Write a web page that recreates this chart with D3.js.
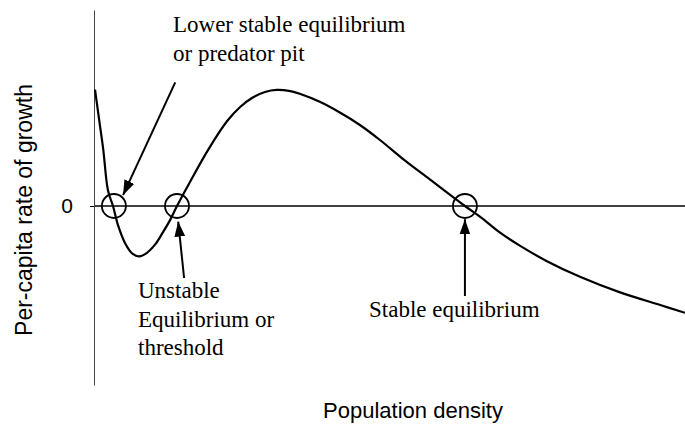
<!DOCTYPE html>
<html>
<head>
<meta charset="utf-8">
<script src="https://cdn.jsdelivr.net/npm/d3@7/dist/d3.min.js"></script>
<style>
  html, body { margin: 0; padding: 0; background: #fff; }
  svg { display: block; }
</style>
</head>
<body>
<svg id="chart" width="685" height="425"></svg>
<script>
// ---- data (population density 0..100, per-capita growth rate, relative units) ----
const curveX = [0, 0.7, 1.4, 2.2, 3.05, 3.9, 5.1, 6.4, 7.5, 8.8, 10.2, 11.5, 12.7, 13.9,
  16.1, 19.2, 22.4, 24.6, 26.6, 28.8, 30.8, 33.1, 34.7, 38.1, 41.5, 44.9, 48.3, 52.5, 56.8, 62.7,
  65.3, 68.6, 72.0, 76.6, 82.2, 89.0, 95.8, 100];
const curveY = [0.97, 0.72, 0.47, 0.13, 0, -0.16, -0.31, -0.40, -0.42, -0.39, -0.32, -0.22, -0.12, 0,
  0.20, 0.47, 0.708, 0.825, 0.90, 0.95, 0.967, 0.957, 0.935, 0.868, 0.779, 0.675, 0.55, 0.38, 0.22, 0,
  -0.09, -0.22, -0.33, -0.46, -0.59, -0.72, -0.825, -0.89];
const equilibriaX = [3.2, 13.9, 62.7];
const yTickValues = [0];
const yTickLabels = ["0"];
const xTitle = "Population density";
const yTitle = "Per-capita rate of growth";
// annotation labels and the arrows pointing to equilibria (data coords)
const annotationLines = [
  ["Lower stable equilibrium", "or predator pit"],
  ["Unstable", "Equilibrium or", "threshold"],
  ["Stable equilibrium"]
];
const arrowFrom = [[13.6, 1.03], [15.1, -0.60], [62.7, -0.75]];
const arrowTo   = [[4.75, 0.09], [14.1, -0.13], [62.7, -0.11]];

// ---- layout ----
const svg = d3.select("#chart");
const x = d3.scaleLinear().domain([0, 100]).range([95, 685]);
const y = d3.scaleLinear().domain([-1.4917, 1.6333]).range([385, 10]);

svg.append("defs").append("marker")
  .attr("id", "arrowhead")
  .attr("viewBox", "0 0 14 10")
  .attr("refX", 14).attr("refY", 5)
  .attr("markerUnits", "userSpaceOnUse")
  .attr("markerWidth", 15).attr("markerHeight", 11)
  .attr("orient", "auto")
  .append("path").attr("d", "M0,0 L14,5 L0,10 Z").attr("fill", "#000");

// y axis (vertical line with tick "0")
const yAxis = d3.axisLeft(y).tickValues(yTickValues)
  .tickFormat((d, i) => yTickLabels[i]).tickSize(4).tickSizeOuter(0).tickPadding(17);
const gy = svg.append("g").attr("transform", `translate(${x(0) - 1},0)`).call(yAxis);
gy.select(".domain").attr("stroke", "#444").attr("stroke-width", 1);
gy.selectAll(".tick line").attr("stroke", "#000");
gy.selectAll(".tick text")
  .attr("font-family", "'Liberation Sans', Arial, sans-serif")
  .attr("font-size", 21).attr("fill", "#000");

// zero line
svg.append("line")
  .attr("x1", x(0)).attr("x2", x(100))
  .attr("y1", y(0)).attr("y2", y(0))
  .attr("stroke", "#000").attr("stroke-width", 1.6);

// curve
const pts = curveX.map((v, i) => [v, curveY[i]]);
svg.append("path")
  .datum(pts)
  .attr("fill", "none").attr("stroke", "#000").attr("stroke-width", 2.2)
  .attr("d", d3.line().x(d => x(d[0])).y(d => y(d[1])).curve(d3.curveCatmullRom.alpha(0.5)));

// equilibrium circles
svg.selectAll("circle.eq").data(equilibriaX).enter().append("circle")
  .attr("class", "eq")
  .attr("cx", d => x(d)).attr("cy", y(0)).attr("r", 12)
  .attr("fill", "none").attr("stroke", "#000").attr("stroke-width", 1.8);

// arrows
svg.selectAll("line.arrow").data(arrowFrom).enter().append("line")
  .attr("class", "arrow")
  .attr("x1", d => x(d[0])).attr("y1", d => y(d[1]))
  .attr("x2", (d, i) => x(arrowTo[i][0])).attr("y2", (d, i) => y(arrowTo[i][1]))
  .attr("stroke", "#000").attr("stroke-width", 2)
  .attr("marker-end", "url(#arrowhead)");

// annotation text
const labelPos = [[173, 32], [138, 298], [369, 317]];
const lineH = 28.5;
annotationLines.forEach((lines, i) => {
  const t = svg.append("text")
    .attr("font-family", "'Liberation Serif', 'Times New Roman', serif")
    .attr("font-size", 23).attr("fill", "#000");
  lines.forEach((s, j) => {
    t.append("tspan").attr("x", labelPos[i][0]).attr("y", labelPos[i][1] + j * lineH).text(s);
  });
});

// axis titles
svg.append("text")
  .attr("x", 413).attr("y", 418)
  .attr("text-anchor", "middle")
  .attr("font-family", "'Liberation Sans', Arial, sans-serif")
  .attr("font-size", 22).attr("fill", "#000")
  .text(xTitle);
svg.append("text")
  .attr("transform", "translate(32,210) rotate(-90)")
  .attr("text-anchor", "middle")
  .attr("font-family", "'Liberation Sans', Arial, sans-serif")
  .attr("font-size", 23).attr("fill", "#000")
  .text(yTitle);
</script>
</body>
</html>
